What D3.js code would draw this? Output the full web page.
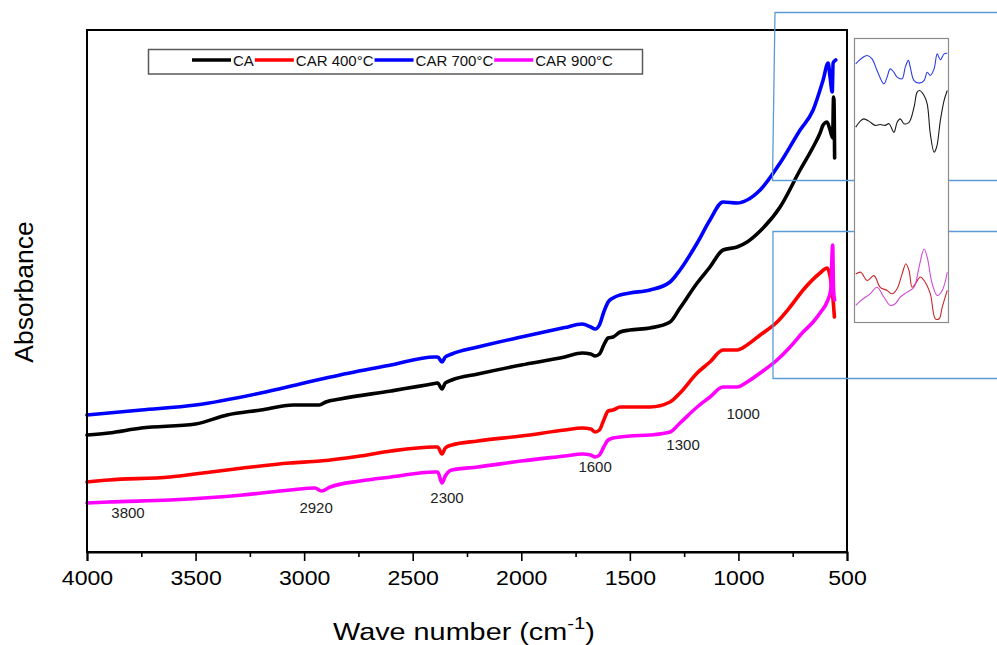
<!DOCTYPE html>
<html>
<head>
<meta charset="utf-8">
<script src="https://cdn.jsdelivr.net/npm/d3@7"></script>
<style>
  html, body { margin: 0; padding: 0; background: #ffffff; }
  svg { display: block; font-family: "Liberation Sans", Arial, sans-serif; }
</style>
</head>
<body>
<svg id="chart" width="997" height="645"></svg>
<script>
// FTIR spectra: [wavenumber (cm^-1), absorbance (a.u., stacked)]
const seriesNames = ["CA", "CAR 400°C", "CAR 700°C", "CAR 900°C"];
const seriesColors = ["#000000", "#ff0000", "#0000ff", "#ff00ff"];

const spectrumCA = [
  [4000, 0.585], [3900, 0.595], [3750, 0.620], [3500, 0.640], [3355, 0.685],
  [3200, 0.710], [3050, 0.735], [2930, 0.735], [2900, 0.750], [2835, 0.765],
  [2600, 0.805], [2400, 0.842], [2385, 0.845], [2365, 0.815], [2350, 0.845],
  [2320, 0.860], [2200, 0.890], [2000, 0.935], [1800, 0.975], [1720, 0.995],
  [1680, 0.990], [1660, 0.980], [1640, 0.990], [1620, 1.035], [1600, 1.070],
  [1577, 1.075], [1545, 1.100], [1500, 1.110], [1407, 1.120], [1315, 1.150],
  [1269, 1.220], [1190, 1.345], [1131, 1.425], [1071, 1.510], [1006, 1.525],
  [960, 1.550], [900, 1.605], [808, 1.725], [716, 1.910], [656, 2.025],
  [624, 2.095], [610, 2.135], [592, 2.150], [578, 2.110], [566, 2.070],
  [562, 2.275], [560, 2.260], [557, 1.970]
];

const spectrumCAR400 = [
  [4000, 0.350], [3900, 0.360], [3618, 0.375], [3466, 0.395], [3282, 0.420],
  [3065, 0.445], [2927, 0.455], [2742, 0.480], [2600, 0.505], [2400, 0.525],
  [2385, 0.525], [2365, 0.490], [2350, 0.520], [2320, 0.535], [2200, 0.555],
  [2000, 0.580], [1800, 0.610], [1720, 0.620], [1680, 0.615], [1660, 0.600],
  [1640, 0.610], [1620, 0.660], [1600, 0.705], [1577, 0.710], [1545, 0.725],
  [1500, 0.725], [1407, 0.725], [1315, 0.750], [1269, 0.795], [1190, 0.895],
  [1131, 0.950], [1071, 1.010], [1006, 1.010], [960, 1.035], [900, 1.085],
  [822, 1.150], [762, 1.225], [702, 1.310], [624, 1.395], [592, 1.420],
  [578, 1.380], [566, 1.285], [558, 1.175]
];

const spectrumCAR700 = [
  [4000, 0.685], [3900, 0.695], [3750, 0.710], [3500, 0.735], [3200, 0.795],
  [3000, 0.845], [2835, 0.885], [2600, 0.935], [2400, 0.975], [2385, 0.975],
  [2365, 0.950], [2350, 0.975], [2320, 0.990], [2200, 1.025], [2000, 1.075],
  [1800, 1.122], [1720, 1.140], [1680, 1.125], [1660, 1.115], [1640, 1.135],
  [1620, 1.200], [1600, 1.250], [1577, 1.270], [1545, 1.285], [1500, 1.295],
  [1407, 1.310], [1315, 1.350], [1269, 1.410], [1190, 1.545], [1131, 1.660],
  [1071, 1.750], [1006, 1.745], [960, 1.760], [900, 1.810], [808, 1.945],
  [716, 2.110], [656, 2.210], [610, 2.360], [587, 2.445], [578, 2.375],
  [568, 2.300], [564, 2.445], [552, 2.460]
];

const spectrumCAR900 = [
  [4000, 0.245], [3900, 0.250], [3618, 0.260], [3282, 0.285], [3065, 0.310],
  [2950, 0.320], [2920, 0.305], [2880, 0.325], [2742, 0.355], [2600, 0.375],
  [2400, 0.400], [2385, 0.400], [2365, 0.345], [2350, 0.380], [2320, 0.410],
  [2200, 0.425], [2000, 0.455], [1800, 0.480], [1720, 0.490], [1680, 0.485],
  [1660, 0.475], [1640, 0.485], [1620, 0.525], [1600, 0.560], [1577, 0.570],
  [1545, 0.575], [1500, 0.580], [1407, 0.585], [1315, 0.600], [1269, 0.645],
  [1190, 0.725], [1131, 0.775], [1071, 0.825], [1006, 0.825], [960, 0.850],
  [900, 0.895], [822, 0.960], [762, 1.025], [702, 1.100], [656, 1.150],
  [624, 1.195], [592, 1.250], [575, 1.310], [566, 1.535], [562, 1.310],
  [557, 1.260]
];

// Enlarged low-wavenumber detail (normalised intensity)
const insetCA = [
  [698, 0.688], [690, 0.711], [685, 0.717], [677, 0.709], [667, 0.694],
  [659, 0.697], [651, 0.694], [645, 0.700], [637, 0.670], [632, 0.705],
  [627, 0.717], [621, 0.700], [613, 0.705], [605, 0.758], [600, 0.811],
  [596, 0.817], [589, 0.799], [584, 0.770], [579, 0.664], [573, 0.600],
  [569, 0.617], [563, 0.711], [557, 0.782], [552, 0.817]
];
const insetCAR400 = [
  [698, 0.171], [690, 0.177], [680, 0.148], [669, 0.165], [659, 0.124],
  [648, 0.113], [640, 0.101], [632, 0.119], [624, 0.171], [618, 0.207],
  [613, 0.183], [608, 0.124], [603, 0.136], [595, 0.160], [589, 0.148],
  [579, 0.101], [571, 0.013], [565, 0.013], [560, 0.054], [552, 0.113]
];
const insetCAR700 = [
  [698, 0.911], [690, 0.928], [680, 0.940], [672, 0.928], [664, 0.887],
  [653, 0.840], [648, 0.864], [643, 0.893], [637, 0.881], [632, 0.864],
  [624, 0.858], [619, 0.899], [614, 0.923], [611, 0.899], [605, 0.852],
  [597, 0.843], [589, 0.852], [584, 0.881], [579, 0.870], [573, 0.893],
  [568, 0.946], [563, 0.925], [557, 0.946], [552, 0.948]
];
const insetCAR900 = [
  [698, 0.060], [690, 0.077], [675, 0.101], [664, 0.124], [653, 0.089],
  [643, 0.060], [635, 0.066], [627, 0.089], [616, 0.107], [605, 0.124],
  [597, 0.195], [589, 0.259], [584, 0.230], [576, 0.136], [568, 0.095],
  [560, 0.113], [552, 0.177]
];

// Axis ticks
const majorTicks = [4000, 3500, 3000, 2500, 2000, 1500, 1000, 500];
const minorTicks = [3750, 3250, 2750, 2250, 1750, 1250, 750];

// Band labels
const bandLabels = ["3800", "2920", "2300", "1600", "1300", "1000"];

const svg = d3.select("#chart");

const plot = { left: 87, right: 847, top: 30, bottom: 552 };
const x = d3.scaleLinear().domain([4000, 500]).range([plot.left, plot.right]);
const y = d3.scaleLinear().domain([0, 2.61]).range([plot.bottom, plot.top]);

// Band label placement (wavenumber at label centre, absorbance at baseline)
const bandLabelAt = [
  [3811, 0.170], [2945, 0.195], [2342, 0.245], [1660, 0.400], [1255, 0.510], [978, 0.665]
];

// Spectra
const spectra = [spectrumCA, spectrumCAR400, spectrumCAR700, spectrumCAR900];
const line = d3.line()
  .x(d => x(d[0]))
  .y(d => y(d[1]))
  .curve(d3.curveMonotoneX);

// draw order: back to front
[2, 0, 1, 3].forEach(i => {
  svg.append("path")
    .datum(spectra[i])
    .attr("d", line)
    .attr("fill", "none")
    .attr("stroke", seriesColors[i])
    .attr("stroke-width", 3.6)
    .attr("stroke-linejoin", "round")
    .attr("stroke-linecap", "round");
});

// Frame
svg.append("rect")
  .attr("x", plot.left).attr("y", plot.top)
  .attr("width", plot.right - plot.left).attr("height", plot.bottom - plot.top)
  .attr("fill", "none").attr("stroke", "#000").attr("stroke-width", 2);

// Bottom axis
const axisG = svg.append("g").attr("transform", `translate(0,${plot.bottom})`);
axisG.call(d3.axisBottom(x).tickValues(majorTicks).tickSize(9).tickPadding(9)
  .tickFormat(d3.format("d")));
axisG.select(".domain").attr("stroke-width", 2);
axisG.selectAll(".tick line").attr("stroke-width", 1.6);
axisG.selectAll(".tick text")
  .attr("font-size", 21)
  .attr("font-family", "'Liberation Sans', Arial, sans-serif")
  .attr("fill", "#000")
  .attr("transform", "scale(1.1,1)");
const minorG = svg.append("g").attr("transform", `translate(0,${plot.bottom})`);
minorG.call(d3.axisBottom(x).tickValues(minorTicks).tickSize(5).tickFormat(""));
minorG.select(".domain").remove();
minorG.selectAll(".tick line").attr("stroke-width", 1.6);

// Axis titles
const xTitle = svg.append("text")
  .attr("transform", `translate(${(plot.left + plot.right) / 2 - 3},640) scale(1.2,1)`)
  .attr("text-anchor", "middle")
  .attr("font-size", 24)
  .attr("fill", "#000");
xTitle.append("tspan").text("Wave number (cm");
xTitle.append("tspan").attr("font-size", 17).attr("dy", -11).text("-1");
xTitle.append("tspan").attr("dy", 11).text(")");

svg.append("text")
  .attr("transform", "translate(33,292) rotate(-90) scale(1.06,1)")
  .attr("text-anchor", "middle")
  .attr("font-size", 25)
  .attr("fill", "#000")
  .text("Absorbance");

// Band labels
svg.append("g").selectAll("text")
  .data(bandLabels)
  .join("text")
  .attr("x", (d, i) => x(bandLabelAt[i][0]))
  .attr("y", (d, i) => y(bandLabelAt[i][1]))
  .attr("text-anchor", "middle")
  .attr("font-size", 15)
  .attr("fill", "#222")
  .text(d => d);

// Legend
const legend = svg.append("g");
legend.append("rect")
  .attr("x", 148.5).attr("y", 49.5).attr("width", 494).attr("height", 24.5)
  .attr("fill", "#fff").attr("stroke", "#5a5a5a").attr("stroke-width", 1.5);
let lx = 192;
seriesNames.forEach((name, i) => {
  legend.append("line")
    .attr("x1", lx).attr("x2", lx + 39).attr("y1", 60).attr("y2", 60)
    .attr("stroke", seriesColors[i]).attr("stroke-width", 3.4);
  const t = legend.append("text")
    .attr("x", lx + 41).attr("y", 66)
    .attr("font-size", 15).attr("fill", "#111")
    .text(name);
  lx += 41 + t.node().getComputedTextLength() + 1;
});

// Call-out frames linking the enlarged region
const calloutColor = "#5b9bd5";
svg.append("path")
  .attr("d", "M1000,12.5 H775 L772.5,180.5 H1000")
  .attr("fill", "none").attr("stroke", calloutColor).attr("stroke-width", 1.3);
svg.append("path")
  .attr("d", "M1000,231.5 H773 V378.5 H1000")
  .attr("fill", "none").attr("stroke", calloutColor).attr("stroke-width", 1.3);

// Inset panel
const inset = { left: 854.5, right: 948.5, top: 38.5, bottom: 322.5 };
svg.append("rect")
  .attr("x", inset.left).attr("y", inset.top)
  .attr("width", inset.right - inset.left).attr("height", inset.bottom - inset.top)
  .attr("fill", "#fff").attr("stroke", "#8c8c8c").attr("stroke-width", 1.2);

const ix = d3.scaleLinear().domain([700, 550]).range([inset.left, inset.right]);
const iy = d3.scaleLinear().domain([0, 1]).range([inset.bottom, inset.top]);
const insetLine = d3.line()
  .x(d => ix(d[0]))
  .y(d => iy(d[1]))
  .curve(d3.curveCatmullRom.alpha(0.5));
const insetData = [insetCA, insetCAR400, insetCAR700, insetCAR900];
const insetColors = ["#1a1a1a", "#c8262a", "#2b3be8", "#d04ad6"];
insetData.forEach((data, i) => {
  svg.append("path")
    .datum(data)
    .attr("d", insetLine)
    .attr("fill", "none")
    .attr("stroke", insetColors[i])
    .attr("stroke-width", 1.1);
});
</script>
</body>
</html>
